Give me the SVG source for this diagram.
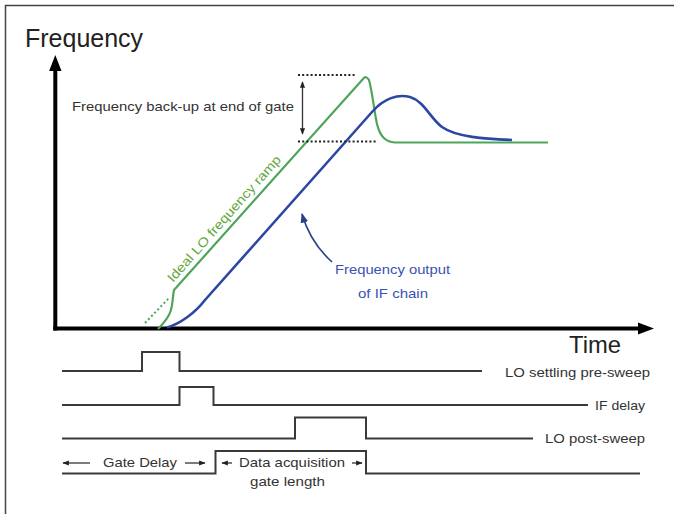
<svg xmlns="http://www.w3.org/2000/svg" width="674" height="514" viewBox="0 0 674 514">
<style>
text{font-family:"Liberation Sans",Arial,sans-serif;}
.lbl{font-size:13.5px;fill:#333;}
.sig{fill:none;stroke:#3a3a3a;stroke-width:2;}
.dot{fill:none;stroke:#222;stroke-width:2;stroke-dasharray:2 2.2;}
.green{fill:none;stroke:#4ea55a;stroke-width:2.2;stroke-linejoin:round;}
.blue{fill:none;stroke:#2c47a3;stroke-width:2.6;stroke-linejoin:round;}
.sm{fill:none;stroke:#333;stroke-width:1.3;}
</style>
<defs>
<marker id="ah" viewBox="0 0 10 10" refX="9" refY="5" markerWidth="5" markerHeight="5" orient="auto-start-reverse"><path d="M0,1 L10,5 L0,9 Z" fill="#222"/></marker>
<marker id="ahb" viewBox="0 0 10 10" refX="9" refY="5" markerWidth="6" markerHeight="6" orient="auto"><path d="M0,1 L10,5 L0,9 Z" fill="#2c3f8a"/></marker>
</defs>
<rect width="674" height="514" fill="#ffffff"/>
<path d="M5.5,514 V5.5 H674" fill="none" stroke="#444" stroke-width="1.5"/>

<g id="axes">
<line x1="55.3" y1="330.5" x2="55.3" y2="68" stroke="#000" stroke-width="4"/>
<path d="M55.3,55 L61.5,71 L49.1,71 Z" fill="#000"/>
<line x1="53.3" y1="328.5" x2="640" y2="328.5" stroke="#000" stroke-width="4"/>
<path d="M654,328.5 L638,322.5 L638,334.5 Z" fill="#000"/>
<text x="25" y="47" font-size="25" fill="#222">Frequency</text>
<text x="569" y="353" font-size="24" fill="#222" textLength="52" lengthAdjust="spacingAndGlyphs">Time</text>
</g>

<g id="lo-ramp">
<line x1="145" y1="323" x2="169" y2="298" stroke="#4ea55a" stroke-width="2" stroke-dasharray="2 2.5"/>
<path class="green" d="M158,329 C163,324 169,317 171,310 C173,303 172.5,297 174,290 L363,79 Q366,75 369,80 C372,90 374,110 377,124 C380,136 385,142 395,142.5 L548,142.5"/>
<text x="173" y="283" font-size="13" fill="#62a83e" transform="rotate(-48.5 173 283)" textLength="164" lengthAdjust="spacingAndGlyphs">Ideal LO frequency ramp</text>
</g>

<g id="if-output">
<path class="blue" d="M167,327.5 C180,324 195,313 205,300 L372,112 C384,98 398,94 410,97 C424,101 430,118 442,127 C456,137 485,139 512,140"/>
<text x="335" y="274" font-size="13.5" fill="#3a52b3" textLength="115" lengthAdjust="spacingAndGlyphs">Frequency output</text>
<text x="358" y="298" font-size="13.5" fill="#3a52b3" textLength="70" lengthAdjust="spacingAndGlyphs">of IF chain</text>
</g>

<g id="backup">
<line class="dot" x1="298" y1="75" x2="355" y2="75"/>
<line class="dot" x1="298" y1="141.5" x2="376" y2="141.5"/>
<text x="72" y="110.5" class="lbl" font-size="12.5" textLength="222" lengthAdjust="spacingAndGlyphs">Frequency back-up at end of gate</text>
</g>

<g id="lo-pre-sweep">
<path class="sig" d="M62,371 H142 V352 H179.5 V371 H482"/>
<text x="505" y="377" class="lbl" font-size="14" textLength="145" lengthAdjust="spacingAndGlyphs">LO settling pre-sweep</text>
</g>

<g id="if-delay">
<path class="sig" d="M62,405 H179.5 V387 H213.5 V405 H588"/>
<text x="595" y="410" class="lbl" font-size="14" textLength="50" lengthAdjust="spacingAndGlyphs">IF delay</text>
</g>

<g id="lo-post-sweep">
<path class="sig" d="M62,438.5 H295 V417.5 H366 V438.5 H533"/>
<text x="545" y="443" class="lbl" font-size="14" textLength="100" lengthAdjust="spacingAndGlyphs">LO post-sweep</text>
</g>

<g id="gate">
<path class="sig" d="M62,473.5 H215.5 V451 H366 V473.5 H640"/>
<text x="103" y="467" class="lbl" font-size="14" textLength="74" lengthAdjust="spacingAndGlyphs">Gate Delay</text>
<text x="239" y="467" class="lbl" font-size="14" textLength="106" lengthAdjust="spacingAndGlyphs">Data acquisition</text>
<text x="250" y="486" class="lbl" font-size="14" textLength="75" lengthAdjust="spacingAndGlyphs">gate length</text>
</g>

<g id="connectors">
<line class="sm" x1="302.5" y1="82" x2="302.5" y2="134" marker-start="url(#ah)" marker-end="url(#ah)"/>
<path d="M332,262 Q310,242 302,214" fill="none" stroke="#2c3f8a" stroke-width="1.6" marker-end="url(#ahb)"/>
<line class="sm" x1="90" y1="463" x2="63" y2="463" marker-end="url(#ah)"/>
<line class="sm" x1="185" y1="463" x2="205" y2="463" marker-end="url(#ah)"/>
<line class="sm" x1="232" y1="463" x2="222" y2="463" marker-end="url(#ah)"/>
<line class="sm" x1="352" y1="463" x2="362" y2="463" marker-end="url(#ah)"/>
</g>
</svg>
